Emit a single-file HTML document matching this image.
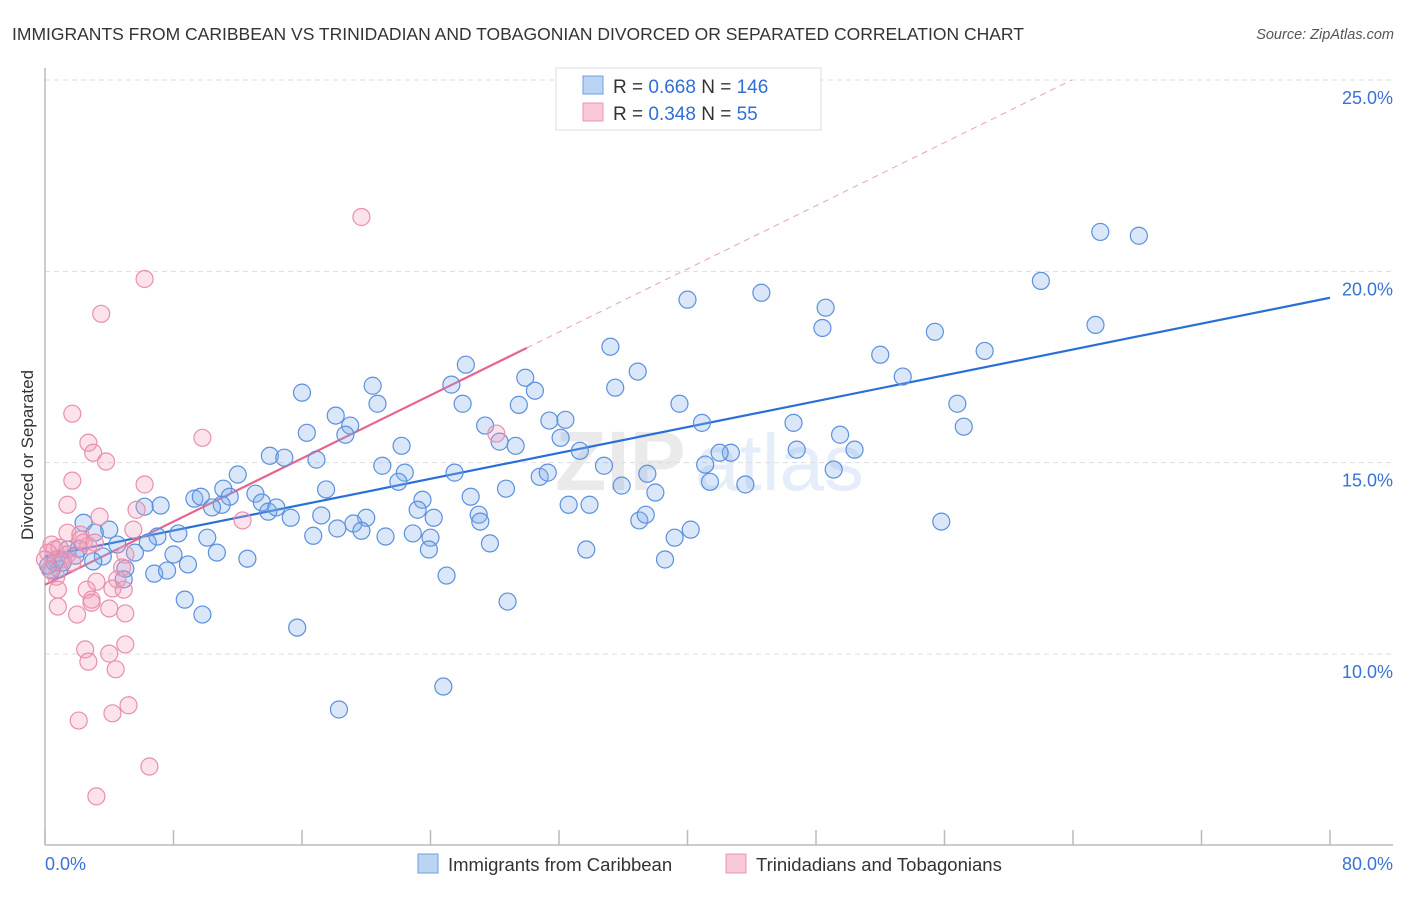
<!DOCTYPE html>
<html><head><meta charset="utf-8"><style>
body{margin:0;background:#fff;font-family:"Liberation Sans",sans-serif;}
svg text{font-family:"Liberation Sans",sans-serif;}
</style></head><body>
<svg id="chart" width="1406" height="892" viewBox="0 0 1406 892" xmlns="http://www.w3.org/2000/svg">
<text x="12" y="40" font-size="17.5" fill="#333">IMMIGRANTS FROM CARIBBEAN VS TRINIDADIAN AND TOBAGONIAN DIVORCED OR SEPARATED CORRELATION CHART</text>
<text x="1394" y="39" font-size="14.5" fill="#555" font-style="italic" text-anchor="end">Source: ZipAtlas.com</text>
<text transform="translate(33,455) rotate(-90)" font-size="17" fill="#333" text-anchor="middle">Divorced or Separated</text>
<g opacity="0.13"><text x="555" y="490" font-size="84" font-family="Liberation Serif" fill="#666" font-weight="bold">ZIP</text><text x="695" y="490" font-size="80" fill="#3b7dd8">atlas</text></g>
<g id="grid"></g><g id="axes"></g><g id="trends"></g><g id="pts"></g>
<g>
<rect x="556" y="68" width="265" height="62" fill="#fff" stroke="#ddd"/>
<rect x="583" y="76" width="20" height="18" fill="#bcd4f4" stroke="#6d9ee0"/>
<rect x="583" y="103" width="20" height="18" fill="#f9c9d7" stroke="#e898b0"/>
<text x="613" y="93" font-size="19" fill="#333">R = <tspan fill="#2f6fd6">0.668</tspan>   N = <tspan fill="#2f6fd6">146</tspan></text>
<text x="613" y="120" font-size="19" fill="#333">R = <tspan fill="#2f6fd6">0.348</tspan>   N =   <tspan fill="#2f6fd6">55</tspan></text>
</g>
<g>
<rect x="418" y="854" width="20" height="19" fill="#bcd4f4" stroke="#6d9ee0"/>
<text x="448" y="871" font-size="18.5" fill="#333">Immigrants from Caribbean</text>
<rect x="726" y="854" width="20" height="19" fill="#f9c9d7" stroke="#e898b0"/>
<text x="756" y="871" font-size="18.5" fill="#333">Trinidadians and Tobagonians</text>
</g>
</svg>
<script>
const blueX=[65.7,68.1,62.0,65.4,40.0,44.6,48.6,48.4,55.4,58.5,52.0,53.4,35.2,36.9,35.5,26.2,25.3,20.4,20.7,29.9,30.5,26.0,29.5,39.5,16.0,18.1,19.0,18.7,16.3,31.4,32.4,27.4,28.3,29.3,32.1,40.9,46.6,49.5,56.8,57.2,46.8,50.4,42.7,42.0,33.3,22.2,21.0,16.9,14.0,14.9,12.0,22.4,22.0,25.5,30.8,31.3,34.8,37.5,41.1,41.4,49.1,43.6,35.9,38.0,17.5,11.1,9.3,9.7,11.5,13.1,11.0,13.5,13.9,14.4,15.3,10.4,7.2,6.2,23.5,26.5,28.7,32.6,33.9,23.2,24.2,27.0,27.1,20.0,19.2,17.2,18.2,19.7,16.7,21.2,22.9,24.0,23.9,27.7,37.0,37.4,39.2,40.2,55.8,33.7,38.6,8.3,7.0,10.1,6.4,4.5,4.0,3.1,2.4,2.1,5.6,3.6,3.0,0.7,0.9,0.4,1.4,8.0,8.9,12.6,10.7,6.8,7.6,5.0,4.9,25.0,28.8,8.7,9.8,15.7,24.8,18.3,0.6,1.1,0.2,1.9];
const blueY=[21.03,20.93,19.75,18.60,19.26,19.44,19.05,18.52,18.42,17.92,17.82,17.25,18.03,17.38,16.96,17.56,17.04,17.01,16.54,17.22,16.88,16.54,16.51,16.54,16.83,16.23,15.97,15.73,15.78,16.10,16.12,15.97,15.55,15.44,15.65,16.04,16.04,15.73,16.54,15.94,15.34,15.34,15.26,15.26,15.31,15.44,14.92,15.08,15.18,15.13,14.69,14.74,14.50,14.74,14.63,14.74,14.92,14.71,14.95,14.50,14.82,14.43,14.40,14.22,14.30,14.32,14.06,14.11,14.11,14.19,13.90,13.96,13.72,13.83,13.56,13.83,13.88,13.85,14.03,14.11,14.32,13.90,13.90,13.77,13.56,13.64,13.46,13.56,13.41,13.62,13.28,13.22,13.09,13.07,13.15,13.04,12.73,12.89,13.49,13.64,13.04,13.25,13.46,12.73,12.47,13.15,13.07,13.04,12.91,12.86,13.25,13.17,13.43,12.75,12.65,12.55,12.42,12.47,12.21,12.18,12.73,12.60,12.34,12.49,12.65,12.10,12.18,12.23,11.95,12.05,11.37,11.42,11.03,10.69,9.15,8.55,12.39,12.39,12.31,12.57];
const pinkX=[19.7,6.2,3.5,9.8,1.7,2.7,3.0,3.8,1.7,6.2,1.4,3.4,5.7,5.5,1.4,2.2,0.4,0.6,0.9,0.2,0.0,1.1,1.4,1.7,2.2,2.7,2.4,3.1,5.0,4.8,4.5,3.2,0.7,0.3,0.8,2.6,4.2,4.0,4.9,0.8,2.0,2.9,2.9,5.0,2.5,2.7,5.0,4.0,4.4,2.1,4.2,5.2,6.5,3.2,28.1,12.3];
const pinkY=[21.42,19.80,18.89,15.65,16.28,15.52,15.26,15.03,14.53,14.43,13.90,13.59,13.77,13.25,13.17,13.12,12.86,12.73,12.78,12.65,12.47,12.47,12.60,12.39,12.99,12.83,12.91,12.91,12.60,12.26,11.95,11.89,12.02,12.21,11.68,11.68,11.71,11.19,11.68,11.24,11.03,11.42,11.34,11.06,10.12,9.80,10.25,10.01,9.60,8.26,8.45,8.66,7.06,6.28,15.76,13.49];
const blueTrend=[12.55,19.31];   // y at x=0 and x=80
const pinkTrend=[11.81,18.0];    // y at x=0 and x=30
const yTicks=[10,15,20,25];
const xTickVals=[0,8,16,24,32,40,48,56,64,72,80];
const NS='http://www.w3.org/2000/svg';
const X0=45,X1=1330,Y25=80,Y10=654;
const sx=v=>X0+(X1-X0)*v/80;
const sy=v=>Y25+(25-v)*(Y10-Y25)/15;
function mk(tag,attrs,parent){const e=document.createElementNS(NS,tag);for(const k in attrs)e.setAttribute(k,attrs[k]);document.getElementById(parent).appendChild(e);return e;}
yTicks.forEach(t=>{
 const l=mk('line',{x1:X0,x2:1393,y1:sy(t),y2:sy(t),stroke:'#ddd','stroke-dasharray':'5,4'},'grid');
 
 
 const tx=mk('text',{x:1393,y:sy(t)+24,'font-size':18,fill:'#3a72d4','text-anchor':'end'},'grid');
 tx.textContent=t.toFixed(1)+'%';
 
 
});
const ya=mk('line',{x1:X0,x2:X0,y1:68,y2:845,stroke:'#bbb','stroke-width':1.5},'axes');


const xa=mk('line',{x1:X0,x2:1393,y1:845,y2:845,stroke:'#bbb','stroke-width':1.5},'axes');


xTickVals.forEach(t=>{
 const tk=mk('line',{x1:sx(t),x2:sx(t),y1:830,y2:845,stroke:'#bbb','stroke-width':1.5},'axes');
 
 
});
const xl0=mk('text',{x:45,y:870,'font-size':18,fill:'#3a72d4'},'axes');xl0.textContent='0.0%';


const xl1=mk('text',{x:1393,y:870,'font-size':18,fill:'#3a72d4','text-anchor':'end'},'axes');xl1.textContent='80.0%';


blueX.forEach((x,i)=>{
 const c=mk('circle',{cx:sx(x),cy:sy(blueY[i]),r:8.5,fill:'rgba(130,175,235,0.3)',stroke:'#5c90dc','stroke-width':1.2},'pts');
 
 
});
pinkX.forEach((x,i)=>{
 const c=mk('circle',{cx:sx(x),cy:sy(pinkY[i]),r:8.5,fill:'rgba(245,160,190,0.3)',stroke:'#e88fac','stroke-width':1.2},'pts');
 
 
});
const bl=mk('line',{x1:sx(0),y1:sy(blueTrend[0]),x2:sx(80),y2:sy(blueTrend[1]),stroke:'#2a6fd8','stroke-width':2.2},'trends');


const slope=(pinkTrend[1]-pinkTrend[0])/30;
const xEnd=(25-pinkTrend[0])/slope;
const pd=mk('line',{x1:sx(30),y1:sy(pinkTrend[1]),x2:sx(xEnd),y2:sy(25),stroke:'#eaa0b8','stroke-width':1,'stroke-dasharray':'6,5'},'trends');


const pl=mk('line',{x1:sx(0),y1:sy(pinkTrend[0]),x2:sx(30),y2:sy(pinkTrend[1]),stroke:'#e8638d','stroke-width':2.2},'trends');


</script>
</body></html>
